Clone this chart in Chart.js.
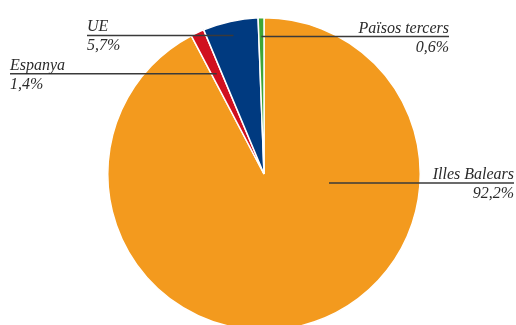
<!DOCTYPE html>
<html>
<head>
<meta charset="utf-8">
<script src="https://cdn.jsdelivr.net/npm/chart.js@4"></script>
<style>
  html, body { margin: 0; padding: 0; background: #fff; overflow: hidden; }
  #wrap { position: absolute; left: 0; top: 0; width: 516px; height: 334px; }
</style>
</head>
<body>
<div id="wrap"><canvas id="grafic" width="516" height="334"></canvas></div>
<script>
// Origen (percentatge)
const categories = ['Illes Balears', 'Espanya', 'UE', 'Països tercers'];
const valors = [92.2, 1.4, 5.7, 0.6];
const etiquetesValor = ['92,2%', '1,4%', '5,7%', '0,6%'];
const colors = ['#f39a1e', '#d0101f', '#003a80', '#3fa535'];

// on va cada etiqueta: x del text, alineació, punt d'ancoratge dins la porció
const etiquetes = [
    { x: 514, align: 'right', frac: 0.42, angle: 97.8 },
    { x: 10, align: 'left', frac: 0.71 },
    { x: 87, align: 'left', frac: 0.908 },
    { x: 449, align: 'right', frac: 0.88 }
];

const pluginEtiquetes = {
    id: 'etiquetes',
    afterDatasetsDraw(chart) {
        const c = chart.ctx;
        const arcs = chart.getDatasetMeta(0).data;
        c.save();
        arcs.forEach((arc, i) => {
            const cfg = etiquetes[i];
            let ang = (arc.startAngle + arc.endAngle) / 2;
            if (cfg.angle !== undefined) ang = (cfg.angle - 90) * Math.PI / 180;
            const ax = arc.x + Math.cos(ang) * arc.outerRadius * cfg.frac;
            const ay = arc.y + Math.sin(ang) * arc.outerRadius * cfg.frac;

            c.strokeStyle = '#3a3a3a';
            c.lineWidth = 1.5;
            c.beginPath();
            c.moveTo(cfg.x, ay);
            c.lineTo(ax, ay);
            c.stroke();

            c.fillStyle = '#2b2b2b';
            c.font = 'italic 16px "Liberation Serif", serif';
            c.textAlign = cfg.align;
            c.textBaseline = 'alphabetic';
            c.fillText(categories[i], cfg.x, ay - 4);
            c.fillText(etiquetesValor[i], cfg.x, ay + 15);
        });
        c.restore();
    }
};

new Chart(document.getElementById('grafic'), {
    type: 'pie',
    data: {
        labels: categories,
        datasets: [{
            data: valors,
            backgroundColor: colors,
            borderColor: '#fff',
            borderWidth: 1.5
        }]
    },
    options: {
        responsive: false,
        animation: false,
        layout: { padding: { left: 107, right: 95, top: 17, bottom: 3 } },
        plugins: {
            legend: { display: false },
            tooltip: { enabled: false }
        }
    },
    plugins: [pluginEtiquetes]
});
</script>
</body>
</html>
